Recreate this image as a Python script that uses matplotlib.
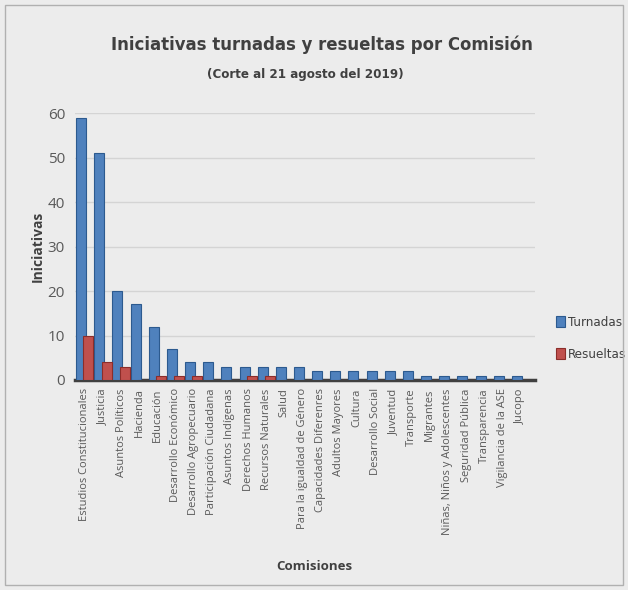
import matplotlib.pyplot as plt
from matplotlib.patches import Rectangle
import numpy as np

plt.rcParams['font.family'] = ['Open Sans', 'DejaVu Sans']

comisiones = ['Estudios Constitucionales', 'Justicia', 'Asuntos Políticos', 'Hacienda',
              'Educación', 'Desarrollo Económico', 'Desarrollo Agropecuario',
              'Participación Ciudadana', 'Asuntos Indígenas', 'Derechos Humanos',
              'Recursos Naturales', 'Salud', 'Para la igualdad de Género',
              'Capacidades Diferenres', 'Adultos Mayores', 'Cultura', 'Desarrollo Social',
              'Juventud', 'Transporte', 'Migrantes', 'Niñas, Niños y Adolescentes',
              'Seguridad Pública', 'Transparencia', 'Vigilancia de la ASE', 'Jucopo']
turnadas = [59, 51, 20, 17, 12, 7, 4, 4, 3, 3, 3, 3, 3, 2, 2, 2, 2, 2, 2, 1, 1, 1, 1, 1, 1]
resueltas = [10, 4, 3, 0, 1, 1, 1, 0, 0, 1, 1, 0, 0, 0, 0, 0, 0, 0, 0, 0, 0, 0, 0, 0, 0]

fig = plt.figure(figsize=(6.28, 5.90), dpi=100, facecolor='#ececec')
fig.patches.append(Rectangle((0.008, 0.008), 0.984, 0.984, transform=fig.transFigure,
                             fill=False, edgecolor='#b0b0b0', linewidth=1))
ax = fig.add_axes([0.119, 0.356, 0.733, 0.452])
ax.set_facecolor('none')

x = np.arange(len(comisiones))
ax.bar(x - 0.2, turnadas, width=0.55, color='#4f81bd', edgecolor='#2c5a8f',
       linewidth=0.8, label='Turnadas', zorder=3)
ax.bar(x + 0.2, resueltas, width=0.55, color='#c0504d', edgecolor='#8c2d2a',
       linewidth=0.8, label='Resueltas', zorder=4)

ax.set_ylim(0, 60)
ax.set_xlim(-0.55, 24.8)
ax.set_yticks(range(0, 61, 10))
ax.yaxis.grid(True, color='#d4d4d4', linewidth=1)
ax.set_axisbelow(True)
for s in ['top', 'right', 'left']:
    ax.spines[s].set_visible(False)
ax.spines['bottom'].set_color('#404040')
ax.spines['bottom'].set_linewidth(2.5)
ax.tick_params(axis='y', length=0, labelsize=11, labelcolor='#595959', pad=7)
ax.tick_params(axis='x', length=0, labelsize=8, labelcolor='#595959', pad=6)
ax.set_xticks(x)
ax.set_xticklabels(comisiones, rotation=90)

ax.set_ylabel('Iniciativas', fontsize=10, fontweight='bold', color='#404040', labelpad=2)
fig.text(0.5, 0.040, 'Comisiones', ha='center', va='center', fontsize=9.5,
         fontweight='bold', color='#404040')
fig.text(0.512, 0.924, 'Iniciativas turnadas y resueltas por Comisión', ha='center',
         va='center', fontsize=13.2, fontweight='bold', color='#404040',
         family='DejaVu Sans', stretch='condensed')
fig.text(0.486, 0.873, '(Corte al 21 agosto del 2019)', ha='center', va='center',
         fontsize=9.5, fontweight='bold', color='#404040',
         family='DejaVu Sans', stretch='condensed')

ax.legend(loc='center left', bbox_to_anchor=(1.026, 0.155), frameon=False,
          prop={'family': 'DejaVu Sans', 'stretch': 'condensed', 'size': 9.5},
          handlelength=0.7, handleheight=0.9, handletextpad=0.2,
          labelspacing=1.4, labelcolor='#404040', borderaxespad=0.3)

fig.savefig('out.png', dpi=100, facecolor=fig.get_facecolor())
